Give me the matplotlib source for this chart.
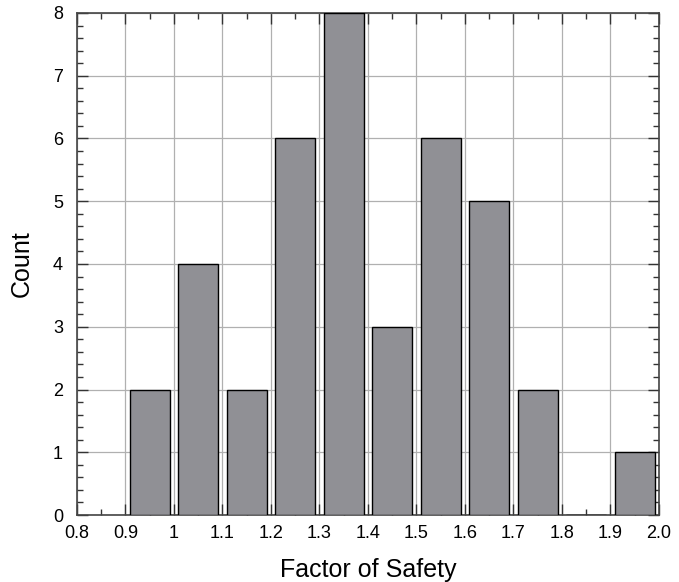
import matplotlib.pyplot as plt
from matplotlib.ticker import MultipleLocator

plt.rcParams['font.family'] = ['Liberation Sans', 'DejaVu Sans']

# histogram bins (lower edges) and counts
bin_starts = [0.9, 1.0, 1.1, 1.2, 1.3, 1.4, 1.5, 1.6, 1.7, 1.8, 1.9]
counts = [2, 4, 2, 6, 8, 3, 6, 5, 2, 0, 1]
xtick_vals = [0.8, 0.9, 1.0, 1.1, 1.2, 1.3, 1.4, 1.5, 1.6, 1.7, 1.8, 1.9, 2.0]
xtick_labels = ['0.8', '0.9', '1', '1.1', '1.2', '1.3', '1.4', '1.5', '1.6',
                '1.7', '1.8', '1.9', '2.0']

fig = plt.figure(figsize=(6.79, 5.82), dpi=100)
ax = fig.add_axes([0.1134, 0.1151, 0.8571, 0.8626])

centers = [b + 0.05 for b in bin_starts]
ax.bar(centers, counts, width=0.082, color='#909095', edgecolor='black',
       linewidth=1.0, zorder=3)

ax.set_xlim(0.8, 2.0)
ax.set_ylim(0, 8)
ax.set_xticks(xtick_vals)
ax.set_xticklabels(xtick_labels)
ax.set_yticks(range(0, 9))
ax.xaxis.set_minor_locator(MultipleLocator(0.05))
ax.yaxis.set_minor_locator(MultipleLocator(0.2))

ax.grid(True, which='major', color='#b0b0b0', linewidth=0.9, zorder=0)
ax.tick_params(which='both', direction='in', top=True, right=True,
               labelsize=13, colors='#333333', labelcolor='black')
ax.tick_params(axis='x', pad=7)
ax.tick_params(axis='y', pad=10)
ax.tick_params(which='major', length=8, width=1)
ax.tick_params(which='minor', length=4, width=1)
for s in ax.spines.values():
    s.set_color('#444444')
    s.set_linewidth(1.2)

ax.set_xlabel('Factor of Safety', fontsize=18, labelpad=12)
ax.set_ylabel('Count', fontsize=18, labelpad=14)

fig.savefig('out.png', dpi=100)
